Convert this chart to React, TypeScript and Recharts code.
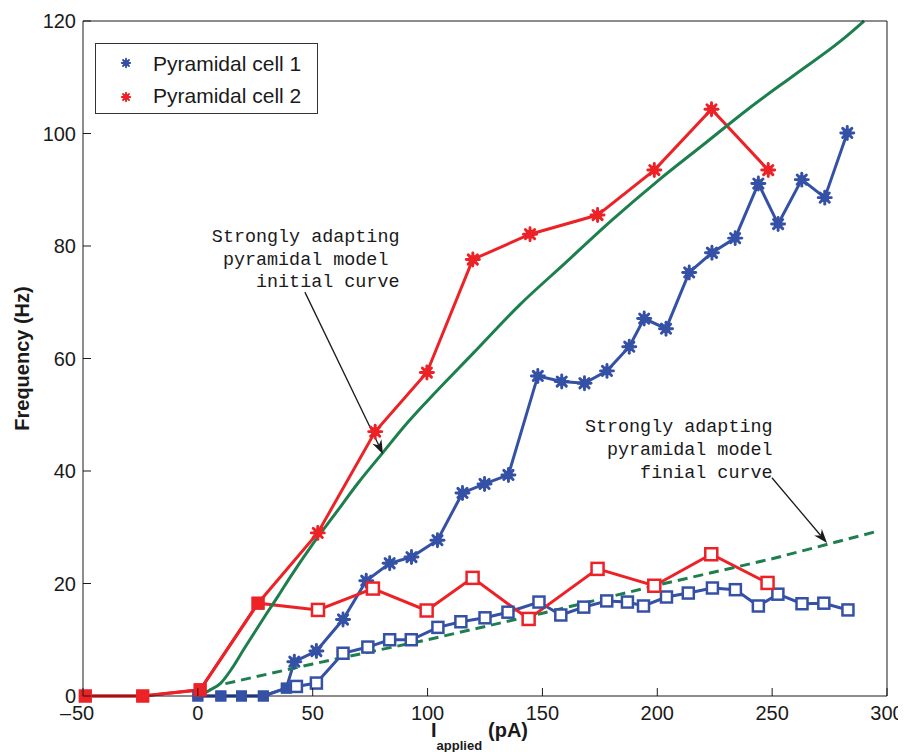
import React from "react"
import { LineChart, Line, XAxis, YAxis, Legend, ReferenceLine, ReferenceDot } from "recharts"

// measured values (pA -> Hz)
const xTicks = [-50, 0, 50, 100, 150, 200, 250, 300]
const yTicks = [0, 20, 40, 60, 80, 100, 120]

const cell1BaseX = [0, 10, 19, 28.5, 38.5]
const cell1BaseY = [0, 0, 0, 0, 1.4]
const cell1InitX = [42, 51.6, 63.2, 73.3, 83.5, 93, 104.3, 115.2, 124.8, 135.2, 148, 158.4, 168.3, 178.1, 187.8, 194.3, 203.8, 213.9, 223.8, 233.9, 244, 252.6, 262.9, 272.9, 282.7]
const cell1InitY = [6.1, 8, 13.6, 20.5, 23.6, 24.7, 27.7, 36.1, 37.7, 39.3, 56.9, 55.9, 55.6, 57.8, 62.1, 67.1, 65.3, 75.3, 78.8, 81.4, 91.1, 83.9, 91.8, 88.6, 100.1]
const cell1FinalX = [42.9, 51.6, 63.2, 74, 83.5, 92.9, 104.5, 114.5, 125, 135, 148.5, 158, 168, 178, 187, 194, 204, 213.5, 224, 234, 244, 252.5, 263, 272.5, 283]
const cell1FinalY = [1.7, 2.3, 7.6, 8.7, 10, 10, 12.2, 13.2, 13.9, 14.9, 16.7, 14.4, 15.8, 16.9, 16.7, 16, 17.6, 18.3, 19.2, 18.9, 16, 18.1, 16.4, 16.5, 15.3]

const cell2BaseX = [-49, -24, 1, 26.2]
const cell2BaseY = [0, 0, 1.1, 16.5]
const cell2InitX = [52.2, 77.2, 99.7, 119.7, 144.6, 174, 198.7, 223.6, 248.3]
const cell2InitY = [29, 47, 57.5, 77.6, 82.1, 85.5, 93.5, 104.3, 93.5]
const cell2FinalX = [52.3, 76.2, 99.6, 119.6, 144, 174, 198.7, 223.5, 248]
const cell2FinalY = [15.3, 19.1, 15.2, 21, 13.7, 22.6, 19.6, 25.2, 20.1]

const modelInitX = [0, 5, 10, 15, 20, 25, 30, 35, 40, 50, 60, 70, 80, 90, 100, 120, 140, 160, 180, 200, 220, 240, 260, 280, 290]
const modelInitY = [0, 1, 2.3, 5, 8.3, 11.5, 14.7, 17.8, 21, 27, 32.5, 38, 43, 48, 52.5, 61, 69.5, 77, 84.5, 91.5, 98, 104.5, 110.5, 116.5, 120]
const modelFinalX = [12, 50, 100, 150, 200, 250, 295]
const modelFinalY = [2.2, 5.7, 10, 14.7, 19.7, 24.4, 29.2]

const legendNames = ["Pyramidal cell 1", "Pyramidal cell 2"]
const noteInitial = ["Strongly adapting", " pyramidal model", "    initial curve"]
const noteFinal = ["Strongly adapting", "  pyramidal model", "     finial curve"]

const BLUE = "#3551a6"
const RED = "#ec2227"
const GREEN = "#1c7f4d"
const INK = "#1a1a1a"
const SANS = '"Liberation Sans", Arial, Helvetica, sans-serif'
const MONO = '"Liberation Mono", "Courier New", monospace'

const toPoints = (xs: number[], ys: number[], kind: string) => xs.map((x, i) => ({ x, y: ys[i], kind }))

const cell1Init = [...toPoints(cell1BaseX, cell1BaseY, "base"), ...toPoints(cell1InitX, cell1InitY, "star")]
const cell1Final = [...toPoints(cell1BaseX, cell1BaseY, "base"), ...toPoints(cell1FinalX, cell1FinalY, "open")]
const cell2Init = [...toPoints(cell2BaseX, cell2BaseY, "base"), ...toPoints(cell2InitX, cell2InitY, "star")]
const cell2Final = [...toPoints(cell2BaseX, cell2BaseY, "base"), ...toPoints(cell2FinalX, cell2FinalY, "open")]
const modelInit = toPoints(modelInitX, modelInitY, "none")
const modelFinal = toPoints(modelFinalX, modelFinalY, "none")

function Star({ cx, cy, color, r }: { cx: number; cy: number; color: string; r: number }) {
  const spokes = [0, 45, 90, 135]
  return (
    <g>
      {spokes.map((a) => {
        const rad = (a * Math.PI) / 180
        const dx = Math.cos(rad) * r
        const dy = Math.sin(rad) * r
        return (
          <line key={a} x1={cx - dx} y1={cy - dy} x2={cx + dx} y2={cy + dy} stroke={color} strokeWidth={r * 0.45} strokeLinecap="round" />
        )
      })}
      <circle cx={cx} cy={cy} r={r * 0.7} fill={color} />
    </g>
  )
}

function makeDot(color: string, baseSize: number, openSize: number) {
  return (p: any) => {
    const { cx, cy, payload, index } = p
    if (cx == null || cy == null) return <g key={index} />
    if (payload.kind === "base") {
      return <rect key={index} x={cx - baseSize / 2} y={cy - baseSize / 2} width={baseSize} height={baseSize} fill={color} />
    }
    if (payload.kind === "open") {
      return (
        <rect key={index} x={cx - openSize / 2} y={cy - openSize / 2} width={openSize} height={openSize} fill="#fff" stroke={color} strokeWidth={2.5} />
      )
    }
    return (
      <g key={index}>
        <Star cx={cx} cy={cy} color={color} r={6.5} />
      </g>
    )
  }
}

const fmt = (v: number) => `${Math.abs(v)}`

function BottomTick(props: any) {
  const { x, y, payload } = props
  const v = payload.value
  return (
    <g>
      <line x1={x} y1={y} x2={x} y2={y - 8} stroke={INK} />
      <text x={x} y={y + 24} textAnchor="middle" fontSize={20} fontFamily={SANS} fill={INK}>
        {fmt(v)}
      </text>
      {v < 0 && (
        <text x={x - 12} y={y + 24} textAnchor="end" fontSize={20} fontFamily={SANS} fill={INK}>
          {"\u2013"}
        </text>
      )}
    </g>
  )
}

function LeftTick(props: any) {
  const { x, y, payload } = props
  return (
    <g>
      <line x1={x} y1={y} x2={x + 8} y2={y} stroke={INK} />
      <text x={x - 7} y={y + 7} textAnchor="end" fontSize={20} fontFamily={SANS} fill={INK}>
        {payload.value}
      </text>
    </g>
  )
}

function TopTick(props: any) {
  const { x, y } = props
  return <line x1={x} y1={y} x2={x} y2={y + 8} stroke={INK} />
}

function RightTick(props: any) {
  const { x, y } = props
  return <line x1={x} y1={y} x2={x - 8} y2={y} stroke={INK} />
}

function Arrow(props: any) {
  const { x1, y1, x2, y2 } = props
  if (x1 == null) return null
  const ang = Math.atan2(y2 - y1, x2 - x1)
  const len = 14
  const half = 5
  const bx = x2 - Math.cos(ang) * len
  const by = y2 - Math.sin(ang) * len
  const nx = -Math.sin(ang) * half
  const ny = Math.cos(ang) * half
  const mx = x2 - Math.cos(ang) * len * 0.7
  const my = y2 - Math.sin(ang) * len * 0.7
  return (
    <g>
      <line x1={x1} y1={y1} x2={mx} y2={my} stroke={INK} strokeWidth={1.3} />
      <polygon points={`${x2},${y2} ${bx + nx},${by + ny} ${mx},${my} ${bx - nx},${by - ny}`} fill={INK} />
    </g>
  )
}

function noteShape(lines: string[]) {
  return (p: any) => {
    const { cx, cy } = p
    if (cx == null) return null
    return (
      <text x={cx} y={cy} fontSize={18.4} fontFamily={MONO} fill={INK} style={{ whiteSpace: "pre" }}>
        {lines.map((t, i) => (
          <tspan key={i} x={cx} dy={i === 0 ? 0 : 22.7}>
            {t}
          </tspan>
        ))}
      </text>
    )
  }
}

function LegendBox() {
  const colors = [BLUE, RED]
  return (
    <div style={{ width: 221, height: 69, border: "1px solid #333", background: "#fff" }}>
      <svg width={221} height={69}>
        {legendNames.map((n, i) => (
          <g key={n}>
            <Star cx={30} cy={19 + i * 34} color={colors[i]} r={4.2} />
            <text x={57} y={27 + i * 32} fontSize={21} fontFamily={SANS} fill={INK}>
              {n}
            </text>
          </g>
        ))}
      </svg>
    </div>
  )
}

function XLabel(props: any) {
  const { viewBox } = props
  const cx = viewBox.x + viewBox.width / 2
  const base = viewBox.y + 41
  return (
    <text x={cx - 54} y={base} fontFamily={SANS} fontWeight="bold" fill={INK}>
      <tspan fontSize={20}>I</tspan>
      <tspan fontSize={13} dy={13}>applied</tspan>
      <tspan fontSize={20} x={cx + 3} dy={-13}>(pA)</tspan>
    </text>
  )
}

function YLabel(props: any) {
  const { viewBox } = props
  const cy = viewBox.y + viewBox.height / 2
  const x = 20.5
  return (
    <text x={x} y={cy} transform={`rotate(-90 ${x} ${cy})`} textAnchor="middle" fontSize={20} fontWeight="bold" fontFamily={SANS} fill={INK}>
      Frequency (Hz)
    </text>
  )
}

export default function App() {
  return (
    <div style={{ width: 898, height: 744, position: "relative", background: "#fff" }}>
      <LineChart width={898} height={744} margin={{ top: 12, right: 18, left: 0, bottom: 0 }}>
        <XAxis
          xAxisId={0}
          dataKey="x"
          type="number"
          domain={[-50, 300]}
          ticks={xTicks}
          interval={0}
          height={56}
          tickSize={0}
          tickMargin={0}
          tickLine={false}
          tick={<BottomTick />}
          axisLine={{ stroke: INK }}
          label={<XLabel />}
        />
        <XAxis
          xAxisId="top"
          orientation="top"
          dataKey="x"
          type="number"
          domain={[-50, 300]}
          ticks={xTicks}
          interval={0}
          height={1}
          tickSize={0}
          tickMargin={0}
          tickLine={false}
          tick={<TopTick />}
          axisLine={{ stroke: INK }}
        />
        <YAxis
          yAxisId={0}
          type="number"
          domain={[0, 120]}
          ticks={yTicks}
          interval={0}
          width={75}
          tickSize={0}
          tickMargin={0}
          tickLine={false}
          tick={<LeftTick />}
          axisLine={{ stroke: INK }}
          label={<YLabel />}
        />
        <YAxis
          yAxisId="right"
          orientation="right"
          type="number"
          domain={[0, 120]}
          ticks={yTicks}
          interval={0}
          width={1}
          tickSize={0}
          tickMargin={0}
          tickLine={false}
          tick={<RightTick />}
          axisLine={{ stroke: INK }}
        />
        <Legend
          layout="vertical"
          align="center"
          verticalAlign="middle"
          wrapperStyle={{ left: 87, top: 35, width: 223, height: 71 }}
          content={() => <LegendBox />}
        />

        <Line data={cell1Final} dataKey="y" stroke={BLUE} strokeWidth={3} dot={makeDot(BLUE, 11, 11)} activeDot={false} isAnimationActive={false} />
        <Line data={cell1Init} dataKey="y" stroke={BLUE} strokeWidth={3} dot={makeDot(BLUE, 11, 11)} activeDot={false} isAnimationActive={false} />
        <Line data={cell2Final} dataKey="y" stroke={RED} strokeWidth={3} dot={makeDot(RED, 13, 12)} activeDot={false} isAnimationActive={false} />
        <Line data={cell2Init} dataKey="y" stroke={RED} strokeWidth={3} dot={makeDot(RED, 13, 12)} activeDot={false} isAnimationActive={false} />
        <Line data={modelInit} dataKey="y" type="monotone" stroke={GREEN} strokeWidth={3} dot={false} activeDot={false} isAnimationActive={false} />
        <Line data={modelFinal} dataKey="y" stroke={GREEN} strokeWidth={3} strokeDasharray="10 6" dot={false} activeDot={false} isAnimationActive={false} />

        <ReferenceLine segment={[{ x: 46.6, y: 71.8 }, { x: 80.6, y: 43.0 }]} shape={<Arrow />} />
        <ReferenceLine segment={[{ x: 249.9, y: 38.8 }, { x: 273.9, y: 27.2 }]} shape={<Arrow />} />
        <ReferenceDot x={6.1} y={80.7} r={0} shape={noteShape(noteInitial)} />
        <ReferenceDot x={168.5} y={46.9} r={0} shape={noteShape(noteFinal)} />
      </LineChart>
    </div>
  )
}
